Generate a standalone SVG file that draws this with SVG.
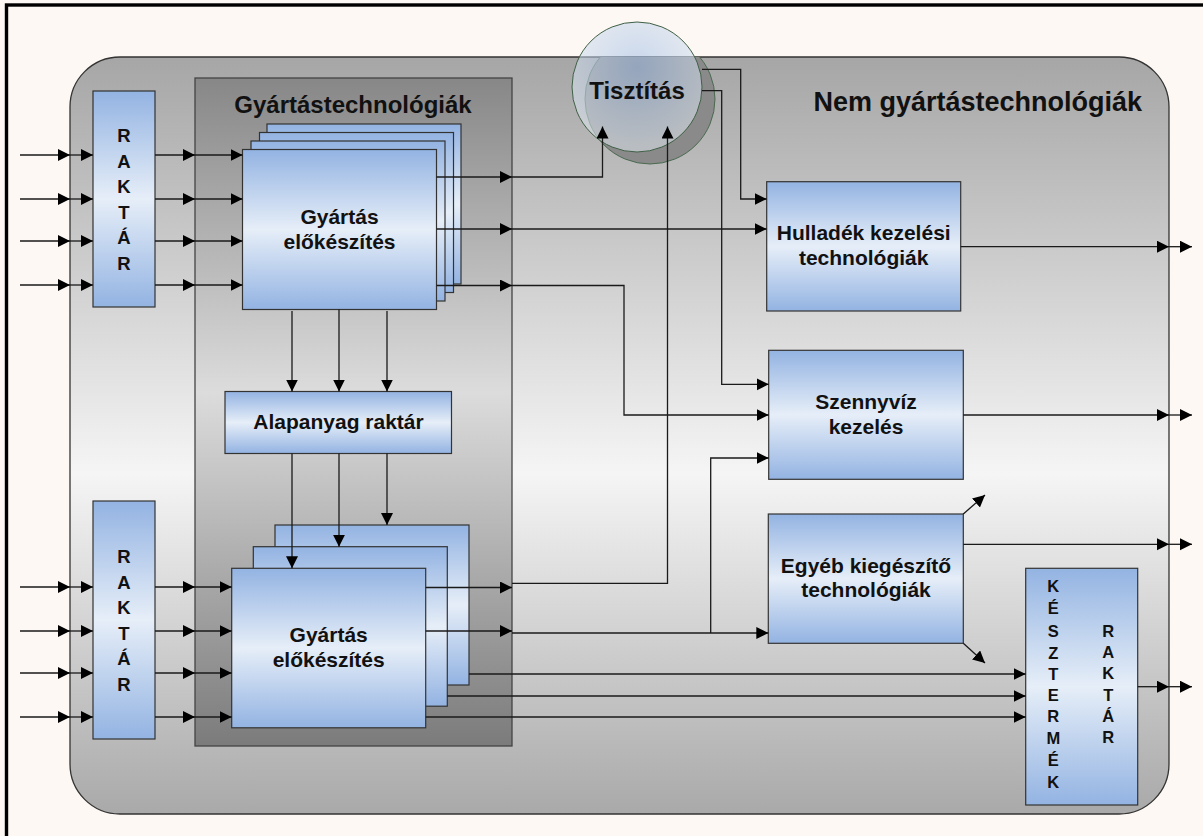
<svg xmlns="http://www.w3.org/2000/svg" width="1203" height="836" viewBox="0 0 1203 836">
  <defs>
    <linearGradient id="gNem" x1="0" y1="0" x2="0" y2="1">
      <stop offset="0" stop-color="#a6a6a6"/>
      <stop offset="0.55" stop-color="#f5f5f5"/>
      <stop offset="1" stop-color="#a9a9a9"/>
    </linearGradient>
    <linearGradient id="gTech" x1="0" y1="0" x2="0" y2="1">
      <stop offset="0" stop-color="#878787"/>
      <stop offset="0.47" stop-color="#dcdcdc"/>
      <stop offset="1" stop-color="#7b7b7b"/>
    </linearGradient>
    <linearGradient id="gBlue" x1="0" y1="0" x2="0" y2="1">
      <stop offset="0" stop-color="#93b3e2"/>
      <stop offset="0.5" stop-color="#e6eef8"/>
      <stop offset="1" stop-color="#93b3e2"/>
    </linearGradient>
    <radialGradient id="gCircle" cx="0.5" cy="0.35" r="0.6">
      <stop offset="0" stop-color="#9dbbe6"/>
      <stop offset="1" stop-color="#dfe7f0"/>
    </radialGradient>
    <clipPath id="clipNem">
      <rect x="70" y="57" width="1099" height="757" rx="50" ry="50"/>
    </clipPath>
    <marker id="arr" markerUnits="userSpaceOnUse" markerWidth="13" markerHeight="13" refX="12" refY="6" orient="auto">
      <path d="M0,0 L12,6 L0,12 Z" fill="#000"/>
    </marker>
    <style>
      .box { fill: url(#gBlue); stroke: #333; stroke-width: 1.2; }
      .lbl { font-family: "Liberation Sans", Arial, sans-serif; font-weight: bold; fill: #111; text-anchor: middle; }
      .big { font-size: 21px; }
      .letters { font-size: 18.5px; }
      .small { font-size: 16.5px; }
      .con path { fill: none; stroke: #1a1a1a; stroke-width: 1.3; marker-end: url(#arr); }
    </style>
  </defs>

  <!-- page -->
  <rect x="0" y="0" width="1203" height="836" fill="#fdf8f3"/>
  <rect x="6.5" y="5" width="1200" height="840" fill="none" stroke="#000" stroke-width="3.4"/>

  <!-- outer area: non-manufacturing technologies -->
  <g id="nem-gyartastechnologiak">
    <rect x="70" y="57" width="1099" height="757" rx="50" ry="50" fill="url(#gNem)" stroke="#333" stroke-width="1.3"/>
    <text class="lbl" x="1142" y="111" font-size="27" style="text-anchor:end">Nem gyártástechnológiák</text>
  </g>

  <!-- manufacturing technologies panel -->
  <g id="gyartastechnologiak">
    <rect x="195" y="78" width="317" height="668" fill="url(#gTech)" stroke="#444" stroke-width="1.3"/>
    <text class="lbl" x="353" y="113" font-size="24">Gyártástechnológiák</text>
  </g>

  <!-- cleaning -->
  <g id="tisztitas">
    <circle cx="650" cy="99" r="65" fill="#8a8a8a" stroke="#4a6a50" stroke-width="1" clip-path="url(#clipNem)"/>
    <circle cx="637" cy="87" r="65" fill="url(#gCircle)" fill-opacity="0.55" stroke="#3f5f45" stroke-width="1"/>
    <text class="lbl" x="637" y="99" font-size="24">Tisztítás</text>
  </g>

  <!-- input stores -->
  <g id="raktar-felso">
    <rect class="box" x="93" y="91" width="62" height="216"/>
    <text class="lbl letters" x="124" y="142">R</text>
    <text class="lbl letters" x="124" y="167.6">A</text>
    <text class="lbl letters" x="124" y="193.2">K</text>
    <text class="lbl letters" x="124" y="218.8">T</text>
    <text class="lbl letters" x="124" y="244.4">Á</text>
    <text class="lbl letters" x="124" y="270">R</text>
  </g>
  <g id="raktar-also">
    <rect class="box" x="93" y="501" width="62" height="238"/>
    <text class="lbl letters" x="124" y="563">R</text>
    <text class="lbl letters" x="124" y="588.6">A</text>
    <text class="lbl letters" x="124" y="614.2">K</text>
    <text class="lbl letters" x="124" y="639.8">T</text>
    <text class="lbl letters" x="124" y="665.4">Á</text>
    <text class="lbl letters" x="124" y="691">R</text>
  </g>

  <!-- upper production stack -->
  <g id="gyartas-felso">
    <rect class="box" x="267" y="124" width="194" height="160"/>
    <rect class="box" x="259.5" y="132.5" width="194" height="160"/>
    <rect class="box" x="251" y="141" width="194" height="160"/>
    <rect class="box" x="242.5" y="149.5" width="194" height="160"/>
    <text class="lbl big" x="339.5" y="223.5">Gyártás</text>
    <text class="lbl big" x="339.5" y="248.5">előkészítés</text>
  </g>

  <!-- raw material store -->
  <g id="alapanyag-raktar">
    <rect class="box" x="225" y="391.5" width="226.5" height="62"/>
    <text class="lbl big" x="338.5" y="428.5">Alapanyag raktár</text>
  </g>

  <!-- lower production stack -->
  <g id="gyartas-also">
    <rect class="box" x="275" y="525" width="194" height="160"/>
    <rect class="box" x="253.3" y="546.7" width="194" height="159.5"/>
    <rect class="box" x="231.7" y="568.3" width="194" height="159.5"/>
    <text class="lbl big" x="328.7" y="642">Gyártás</text>
    <text class="lbl big" x="328.7" y="666.5">előkészítés</text>
  </g>

  <!-- auxiliary technologies -->
  <g id="hulladek">
    <rect class="box" x="766.7" y="181.7" width="194" height="129.3"/>
    <text class="lbl big" x="863.7" y="240">Hulladék kezelési</text>
    <text class="lbl big" x="863.7" y="265">technológiák</text>
  </g>
  <g id="szennyviz">
    <rect class="box" x="768.7" y="350.3" width="194.6" height="129"/>
    <text class="lbl big" x="866" y="408.5">Szennyvíz</text>
    <text class="lbl big" x="866" y="433.5">kezelés</text>
  </g>
  <g id="egyeb">
    <rect class="box" x="768.3" y="514" width="195" height="129.3"/>
    <text class="lbl big" x="866" y="572.7">Egyéb kiegészítő</text>
    <text class="lbl big" x="866" y="596.7">technológiák</text>
  </g>

  <!-- finished product store -->
  <g id="kesztermek-raktar">
    <rect class="box" x="1025.7" y="568.3" width="112" height="236.7"/>
    <text class="lbl small" x="1053.3" y="591.7">K</text>
    <text class="lbl small" x="1053.3" y="614.3">É</text>
    <text class="lbl small" x="1053.3" y="637">S</text>
    <text class="lbl small" x="1053.3" y="658.5">Z</text>
    <text class="lbl small" x="1053.3" y="679.5">T</text>
    <text class="lbl small" x="1053.3" y="701">E</text>
    <text class="lbl small" x="1053.3" y="722.3">R</text>
    <text class="lbl small" x="1053.3" y="743.6">M</text>
    <text class="lbl small" x="1053.3" y="766">É</text>
    <text class="lbl small" x="1053.3" y="788.3">K</text>
    <text class="lbl small" x="1108.3" y="636.7">R</text>
    <text class="lbl small" x="1108.3" y="658">A</text>
    <text class="lbl small" x="1108.3" y="679.3">K</text>
    <text class="lbl small" x="1108.3" y="700.6">T</text>
    <text class="lbl small" x="1108.3" y="722">Á</text>
    <text class="lbl small" x="1108.3" y="743.3">R</text>
  </g>

  <!-- connectors -->
  <g id="connectors" class="con">
    <!-- upper inputs -->
    <path d="M20,155 H70"/><path d="M70,155 H93"/><path d="M155,155 H195"/><path d="M195,155 H242.5"/>
    <path d="M20,199 H70"/><path d="M70,199 H93"/><path d="M155,199 H195"/><path d="M195,199 H242.5"/>
    <path d="M20,241 H70"/><path d="M70,241 H93"/><path d="M155,241 H195"/><path d="M195,241 H242.5"/>
    <path d="M20,285 H70"/><path d="M70,285 H93"/><path d="M155,285 H195"/><path d="M195,285 H242.5"/>
    <!-- lower inputs -->
    <path d="M20,587 H70"/><path d="M70,587 H93"/><path d="M155,587 H195"/><path d="M195,587 H231.7"/>
    <path d="M20,631 H70"/><path d="M70,631 H93"/><path d="M155,631 H195"/><path d="M195,631 H231.7"/>
    <path d="M20,673 H70"/><path d="M70,673 H93"/><path d="M155,673 H195"/><path d="M195,673 H231.7"/>
    <path d="M20,717 H70"/><path d="M70,717 H93"/><path d="M155,717 H195"/><path d="M195,717 H231.7"/>
    <!-- upper stack outputs -->
    <path d="M436.5,177 H512"/><path d="M512,177 H602.5 V126.5"/>
    <path d="M436.5,229 H512"/><path d="M512,229 H766.7"/>
    <path d="M436.5,285.5 H512"/><path d="M512,285.5 H624 V415 H768.7"/>
    <!-- to and from raw material store -->
    <path d="M292,311 V391.5"/><path d="M339,309.5 V391.5"/><path d="M387,311 V391.5"/>
    <path d="M292,453.5 V568.3"/><path d="M339,453.5 V546.7"/><path d="M387,453.5 V525"/>
    <!-- lower stack outputs -->
    <path d="M425.7,587.5 H512"/><path d="M512,583.3 H667.5 V126.5"/>
    <path d="M425.7,631 H512"/><path d="M512,633 H768.3"/><path d="M710.7,633 V458 H768.7"/>
    <path d="M469,674 H1025.7"/><path d="M447.3,696 H1025.7"/><path d="M425.7,717 H1025.7"/>
    <!-- cleaning outputs -->
    <path d="M702,69.3 H740.7 V199 H766.7"/>
    <path d="M702,90.7 H721.7 V384.3 H768.7"/>
    <!-- outputs leaving the plant -->
    <path d="M960.7,246.7 H1169"/><path d="M1169,246.7 H1192"/>
    <path d="M963.3,415 H1169"/><path d="M1169,415 H1192"/>
    <path d="M963.3,544.3 H1169"/><path d="M1169,544.3 H1192"/>
    <path d="M1137.7,686.7 H1169"/><path d="M1169,686.7 H1192"/>
    <path d="M963.3,514 L985,495"/><path d="M963.3,643.3 L985,663"/>
  </g>
</svg>
